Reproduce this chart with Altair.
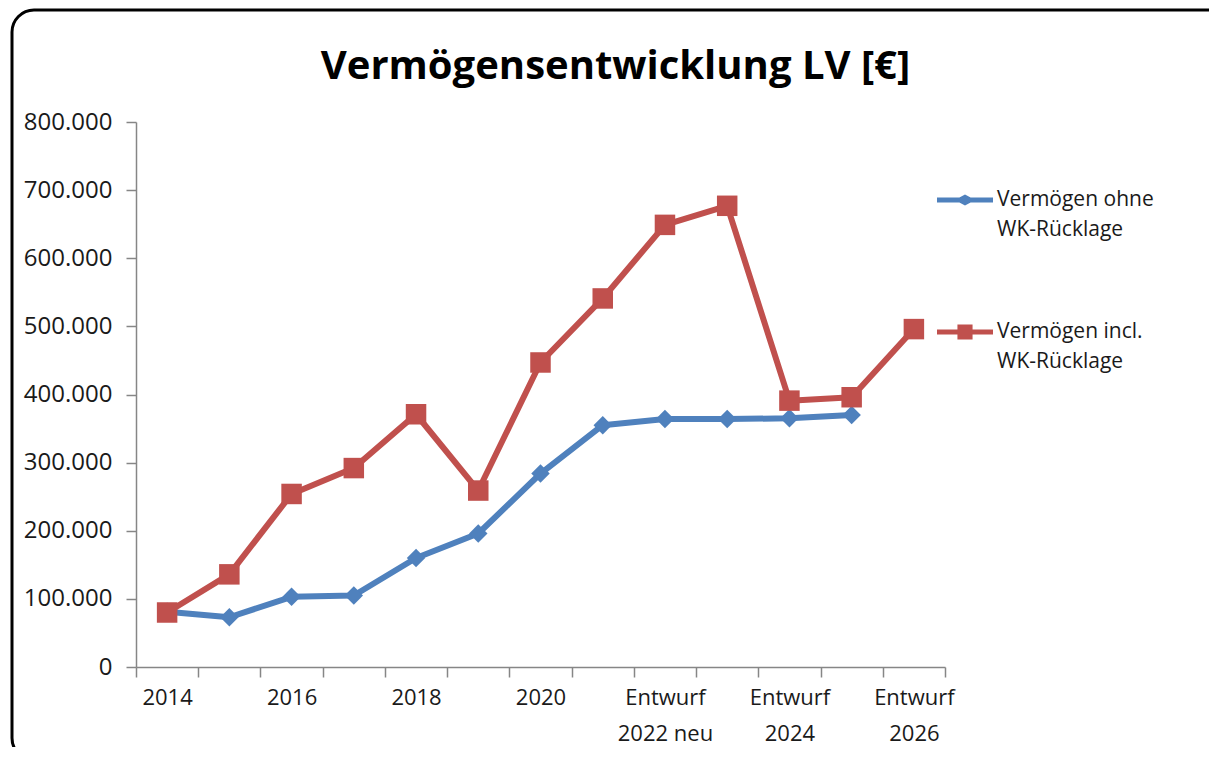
import json
import altair as alt
import pandas as pd

categories = ["2014", "2015", "2016", "2017", "2018", "2019", "2020", "2021",
              "Entwurf 2022 neu", "2023", "Entwurf 2024", "2025", "Entwurf 2026"]
series_names = ["Vermögen ohne WK-Rücklage", "Vermögen incl. WK-Rücklage"]
ohne = [81000, 73000, 103000, 105000, 160000, 196000, 284000, 355000,
        364000, 364000, 365000, 370000, None]
incl = [80000, 136000, 254000, 292000, 371000, 259000, 447000, 541000,
        649000, 677000, 391000, 396000, 496000]
y_ticks = [0, 100000, 200000, 300000, 400000, 500000, 600000, 700000, 800000]

BLUE = "#4F81BD"
RED = "#C0504D"
FONT = "Open Sans"

rows = []
for s, vals in zip(series_names, [ohne, incl]):
    for i, (c, v) in enumerate(zip(categories, vals)):
        if v is not None:
            rows.append({"cat": c, "pos": i + 0.5, "series": s, "value": v})
df = pd.DataFrame(rows)

# x labels: every second category, multi-line for "Entwurf ..."
shown = []
for i, c in enumerate(categories):
    if i % 2:
        shown.append("")
    elif c.startswith("Entwurf "):
        shown.append(["Entwurf", c[len("Entwurf "):]])
    else:
        shown.append(c)
label_expr_x = json.dumps(shown) + "[floor(datum.value)]"

xscale = alt.Scale(domain=[0, len(categories)], nice=False, zero=False)
yscale = alt.Scale(domain=[0, 800000], nice=False)

# legend symbols: line segment + marker (unit box)
sh = 0.0
leg_diamond = (f"M-1,{sh-0.085:.3f}H-0.2L0,{sh-0.2:.3f}L0.2,{sh-0.085:.3f}H1V{sh+0.085:.3f}"
               f"H0.2L0,{sh+0.2:.3f}L-0.2,{sh+0.085:.3f}H-1Z")
leg_square = (f"M-1,{sh-0.085:.3f}H-0.27V{sh-0.27:.3f}H0.27V{sh-0.085:.3f}H1V{sh+0.085:.3f}"
              f"H0.27V{sh+0.27:.3f}H-0.27V{sh+0.085:.3f}H-1Z")

legend = alt.Legend(
    title=None, orient="none", legendX=801, legendY=50, direction="vertical",
    labelFont=FONT, labelFontSize=21, labelColor="#1a1a1a", labelLimit=0,
    labelBaseline="middle", labelOffset=4,
    symbolSize=3136, symbolStrokeWidth=0, symbolOpacity=1, rowPadding=64,
    labelExpr="[substring(datum.label, 0, indexof(datum.label, ' WK')), "
              "substring(datum.label, indexof(datum.label, ' WK') + 1)]",
)
color = alt.Color("series:N", scale=alt.Scale(domain=series_names, range=[BLUE, RED]),
                  legend=legend)
shape = alt.Shape("series:N", scale=alt.Scale(domain=series_names,
                                               range=[leg_diamond, leg_square]),
                  legend=legend)

y_axis = alt.Axis(values=y_ticks, tickSize=10, tickColor="#868686", tickWidth=1.5,
                  domainColor="#868686", domainWidth=1.5, grid=False, title=None,
                  labelExpr="replace(format(datum.value, ','), ',', '.')",
                  labelFont=FONT, labelFontSize=24, labelColor="#1a1a1a",
                  labelPadding=14)

base = alt.Chart(df)

legend_layer = base.mark_point(filled=True, opacity=1).encode(
    x=alt.X("pos:Q", scale=xscale, axis=None),
    y=alt.Y("value:Q", scale=yscale, axis=y_axis),
    color=color, shape=shape,
).transform_filter("false")

frame = alt.Chart(pd.DataFrame({"a": [0]})).mark_rect(
    fill=None, stroke="#000000", strokeWidth=3, cornerRadius=22
).encode(x=alt.value(-124), x2=alt.value(1100), y=alt.value(-112), y2=alt.value(638))

tick_axis = alt.Axis(values=list(range(len(categories) + 1)), labels=False, tickSize=10,
                     tickColor="#868686", tickWidth=1.5, domainColor="#868686",
                     domainWidth=1.5, grid=False, title=None, orient="bottom")
label_axis = alt.Axis(values=[i + 0.5 for i in range(len(categories))], ticks=False,
                      domain=False, grid=False, title=None, orient="bottom",
                      labelExpr=label_expr_x, labelFont=FONT, labelFontSize=22,
                      labelColor="#1a1a1a", labelLineHeight=36, labelPadding=20,
                      labelBaseline="top")

layers = [legend_layer, frame]
for k, (s, shp, sz) in enumerate(zip(series_names, ["diamond", "square"], [340, 420])):
    sub = base.transform_filter(alt.datum.series == s)
    line = sub.mark_line(strokeWidth=6, strokeJoin="round", strokeCap="round").encode(
        x=alt.X("pos:Q", scale=xscale, axis=tick_axis if k == 0 else None),
        y=alt.Y("value:Q", scale=yscale, axis=y_axis),
        color=color,
    )
    pts = sub.mark_point(filled=True, opacity=1, shape=shp, size=sz).encode(
        x=alt.X("pos:Q", scale=xscale, axis=label_axis if k == 0 else None),
        y=alt.Y("value:Q", scale=yscale, axis=y_axis),
        color=color,
    )
    layers += [line, pts]

chart = alt.layer(*layers).resolve_axis(x="independent").properties(
    width=809, height=545,
    autosize=alt.AutoSizeParams(type="none"),
    padding={"left": 128, "top": 114, "right": 264, "bottom": 80},
    title=alt.TitleParams("Vermögensentwicklung LV [€]", font=FONT, fontSize=40,
                          fontWeight="bold", color="#000000", anchor="middle",
                          dx=75, dy=82),
).configure(
    background="white", style={"guide-label": {"lineHeight": 30}}
).configure_view(stroke="transparent", strokeWidth=0)

chart.save("out.html", embed_options={"renderer": "svg", "actions": False})
